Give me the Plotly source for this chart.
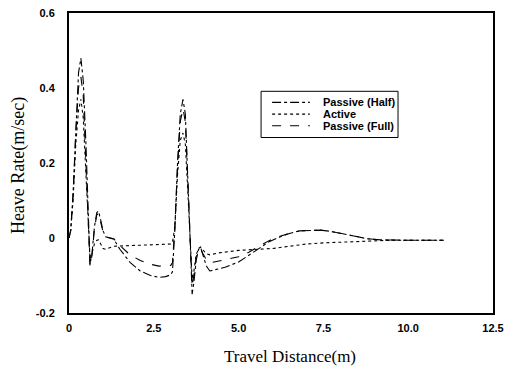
import plotly.graph_objects as go

# Heave rate vs. travel distance for three suspension cases
half_x = [0, 0.05, 0.12, 0.2, 0.28, 0.35, 0.42, 0.5, 0.56, 0.62, 0.68, 0.75, 0.82, 0.87,
          0.93, 1.0, 1.08, 1.2, 1.32, 1.5, 1.8, 2.1, 2.4, 2.65, 2.85, 3.0, 3.05, 3.12,
          3.2, 3.28, 3.36, 3.43, 3.5, 3.57, 3.63, 3.68, 3.75, 3.82, 3.88, 3.95, 4.05,
          4.15, 4.3, 4.6, 5.0, 5.3, 5.6, 5.9, 6.2, 6.5, 6.8, 7.1, 7.4, 7.7, 8.0, 8.4,
          8.8, 9.2, 9.6, 10.0, 10.5, 11.05]
half_y = [0, 0.02, 0.12, 0.3, 0.44, 0.48, 0.42, 0.25, 0.08, -0.07, -0.04, 0.03, 0.068,
          0.072, 0.05, 0.02, 0.003, 0.0, -0.003, -0.03, -0.065, -0.088, -0.1, -0.105,
          -0.103, -0.098, -0.09, 0.02, 0.2, 0.33, 0.37, 0.33, 0.18, 0.0, -0.15, -0.12,
          -0.06, -0.03, -0.025, -0.045, -0.075, -0.088, -0.085, -0.078, -0.064, -0.046,
          -0.026, -0.01, 0.002, 0.012, 0.019, 0.021, 0.021, 0.018, 0.012, 0.004,
          -0.002, -0.005, -0.006, -0.006, -0.006, -0.006]

active_x = [0, 0.05, 0.12, 0.2, 0.28, 0.35, 0.42, 0.5, 0.56, 0.62, 0.68, 0.75, 0.82,
            0.87, 0.93, 1.0, 1.08, 1.2, 1.32, 1.6, 2.0, 2.5, 3.0, 3.05, 3.12, 3.2, 3.28,
            3.36, 3.43, 3.5, 3.57, 3.63, 3.68, 3.75, 3.82, 3.88, 3.95, 4.05, 4.15, 4.4,
            5.0, 5.5, 6.0, 6.5, 7.0, 7.5, 8.0, 8.5, 9.0, 9.5, 10.0, 10.5, 11.05]
active_y = [0, 0.02, 0.1, 0.25, 0.34, 0.37, 0.32, 0.18, 0.04, -0.055, -0.04, -0.015,
            -0.006, -0.005, -0.015, -0.028, -0.03, -0.025, -0.022, -0.021, -0.02, -0.018,
            -0.016, -0.012, 0.03, 0.17, 0.26, 0.28, 0.25, 0.13, -0.01, -0.11, -0.09,
            -0.045, -0.028, -0.024, -0.032, -0.042, -0.045, -0.04, -0.033, -0.03, -0.028,
            -0.022, -0.016, -0.013, -0.011, -0.009, -0.007, -0.006, -0.006, -0.006,
            -0.006]

full_x = [0, 0.05, 0.12, 0.2, 0.28, 0.35, 0.42, 0.5, 0.56, 0.62, 0.68, 0.75, 0.82, 0.87,
          0.93, 1.0, 1.08, 1.2, 1.32, 1.5, 1.8, 2.1, 2.4, 2.65, 2.85, 3.0, 3.05, 3.12,
          3.2, 3.28, 3.36, 3.43, 3.5, 3.57, 3.63, 3.68, 3.75, 3.82, 3.88, 3.95, 4.05,
          4.15, 4.3, 4.6, 5.0, 5.3, 5.6, 5.9, 6.2, 6.5, 6.8, 7.1, 7.4, 7.7, 8.0, 8.4,
          8.8, 9.2, 9.6, 10.0, 10.5, 11.05]
full_y = [0, 0.02, 0.11, 0.28, 0.4, 0.43, 0.38, 0.22, 0.06, -0.075, -0.045, 0.025,
          0.062, 0.066, 0.045, 0.018, 0.003, 0.0, -0.002, -0.02, -0.045, -0.06, -0.07,
          -0.075, -0.075, -0.073, -0.066, 0.03, 0.19, 0.31, 0.345, 0.31, 0.16, -0.01,
          -0.13, -0.1, -0.05, -0.033, -0.03, -0.042, -0.058, -0.066, -0.064, -0.058,
          -0.05, -0.038, -0.022, -0.007, 0.004, 0.013, 0.019, 0.021, 0.021, 0.018,
          0.012, 0.004, -0.002, -0.005, -0.006, -0.006, -0.006, -0.006]

series = [
    ("Passive (Half)", half_x, half_y, "dashdot"),
    ("Active", active_x, active_y, "dot"),
    ("Passive (Full)", full_x, full_y, "dash"),
]

x_ticks = [0, 2.5, 5.0, 7.5, 10.0, 12.5]
x_tick_text = ["0", "2.5", "5.0", "7.5", "10.0", "12.5"]
y_ticks = [-0.2, 0, 0.2, 0.4, 0.6]
y_tick_text = ["-0.2", "0", "0.2", "0.4", "0.6"]

fig = go.Figure()
for name, xs, ys, dash in series:
    fig.add_trace(go.Scatter(
        x=xs, y=ys, mode="lines", name=name, showlegend=False,
        line=dict(color="black", width=1.1, dash=dash),
    ))

# Compact boxed key drawn in paper coordinates
key_left, key_right, key_top, key_bottom = 0.453, 0.776, 0.739, 0.585
sample_x0, sample_x1, label_x = 0.479, 0.568, 0.594
row_y = [0.702, 0.663, 0.624]
shapes = [dict(type="rect", xref="paper", yref="paper",
               x0=key_left, x1=key_right, y0=key_bottom, y1=key_top,
               line=dict(color="black", width=1), fillcolor="white", layer="above")]
annotations = []
for (name, _, _, dash), ry in zip(series, row_y):
    shapes.append(dict(type="line", xref="paper", yref="paper",
                       x0=sample_x0, x1=sample_x1, y0=ry, y1=ry, layer="above",
                       line=dict(color="black", width=1.1, dash=dash)))
    annotations.append(dict(xref="paper", yref="paper", x=label_x, y=ry,
                            xanchor="left", yanchor="middle", showarrow=False,
                            text=name,
                            font=dict(family="Liberation Sans, Arial", size=11,
                                      color="black", weight="bold")))

title_font = dict(family="Liberation Serif, Times New Roman", size=17, color="black")
annotations.append(dict(xref="paper", yref="paper", x=0.521, y=-0.144,
                        xanchor="center", yanchor="middle", showarrow=False,
                        text="Travel Distance(m)", font=title_font))
annotations.append(dict(xref="paper", yref="paper", x=-0.12, y=0.49,
                        xanchor="center", yanchor="middle", showarrow=False,
                        textangle=-90, text="Heave Rate(m/sec)",
                        font=dict(family="Liberation Serif, Times New Roman", size=18,
                                  color="black")))

tick_font = dict(family="Liberation Sans, Arial", size=11, color="black", weight="bold")

fig.update_layout(
    width=513, height=373,
    margin=dict(l=69, r=20, t=7, b=60),
    paper_bgcolor="white", plot_bgcolor="white",
    showlegend=False,
    shapes=shapes,
    annotations=annotations,
    xaxis=dict(
        range=[0, 12.5], tickvals=x_ticks, ticktext=x_tick_text,
        showgrid=False, zeroline=False, ticks="",
        showline=True, linecolor="black", linewidth=2, mirror=True,
        tickfont=tick_font, ticklabelstandoff=4,
    ),
    yaxis=dict(
        range=[-0.2, 0.6], tickvals=y_ticks, ticktext=y_tick_text,
        showgrid=False, zeroline=False, ticks="",
        showline=True, linecolor="black", linewidth=2, mirror=True,
        tickfont=tick_font, ticklabelstandoff=10,
    ),
)

fig.write_html("out.html")
